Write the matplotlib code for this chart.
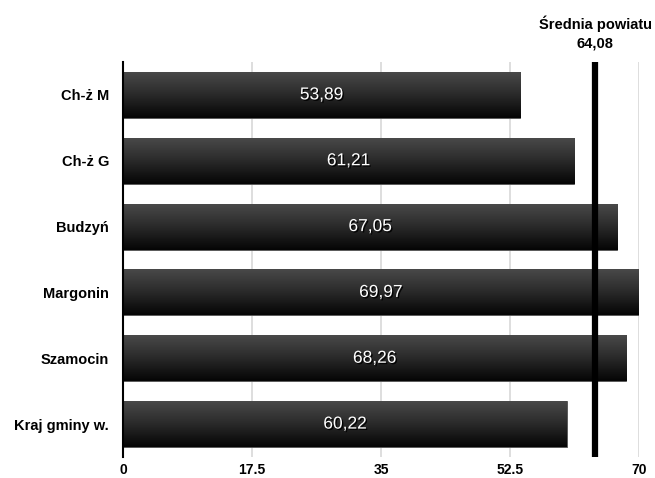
import numpy as np
import matplotlib
matplotlib.use("Agg")
import matplotlib.pyplot as plt
import matplotlib.patheffects as pe
from matplotlib.colors import LinearSegmentedColormap

plt.rcParams['font.family'] = ['Liberation Sans', 'DejaVu Sans']

# data
categories = ["Ch-ż M", "Ch-ż G", "Budzyń", "Margonin", "Szamocin", "Kraj gminy w."]
values = [53.89, 61.21, 67.05, 69.97, 68.26, 60.22]
value_labels = ["53,89", "61,21", "67,05", "69,97", "68,26", "60,22"]
average = 64.08
average_label = "Średnia powiatu\n64,08"
xticks = [0, 17.5, 35, 52.5, 70]
xtick_labels = ["0", "17.5", "35", "52.5", "70"]

fig = plt.figure(figsize=(6.55, 4.78), dpi=100)
ax = fig.add_axes([123 / 655, 1 - 457 / 478, 516 / 655, 395 / 478])

y = np.arange(len(categories))
bars = ax.barh(y, values, height=0.7, color="#1a1a1a", edgecolor="#555555",
               linewidth=0.6, zorder=2)

# vertical gradient on each bar (grey on top -> black at bottom)
grad_cmap = LinearSegmentedColormap.from_list("bar", ["#4a4a4a", "#2a2a2a", "#050505"])
grad = np.linspace(0, 1, 64).reshape(-1, 1)
for b in bars:
    x0, y0 = b.get_x(), b.get_y()
    w, h = b.get_width(), b.get_height()
    im = ax.imshow(grad, cmap=grad_cmap, aspect="auto", origin="upper",
                   extent=[x0, x0 + w, y0 + h, y0], zorder=2.5)
    im.set_clip_path(b)

for yi, v, lab in zip(y, values, value_labels):
    ax.text(v / 2, yi, lab, ha="center", va="center", color="white",
            fontsize=12.5, zorder=4,
            path_effects=[pe.withSimplePatchShadow(offset=(1, -1), shadow_rgbFace="black", alpha=0.9)])

ax.set_xlim(0, 70)
ax.set_ylim(len(categories) - 0.5, -0.5)
ax.set_xticks(xticks)
ax.set_xticklabels(xtick_labels, fontsize=10, fontweight="bold")
ax.set_yticks(y)
ax.set_yticklabels(categories, fontsize=10.5, fontweight="bold")
ax.tick_params(axis="y", length=0, pad=10)
ax.tick_params(axis="x", length=0, pad=4)

ax.grid(axis="x", color="#d8d8d8", linewidth=1.2, zorder=0)
ax.set_axisbelow(True)
for s in ["top", "right", "bottom"]:
    ax.spines[s].set_visible(False)
ax.spines["left"].set_color("black")
ax.spines["left"].set_linewidth(1.5)
ax.spines["left"].set_zorder(5)

ax.axvline(average, ymin=0, ymax=1, color="black", linewidth=4.5, zorder=6)
ax.text(average, -0.67, average_label, ha="center", va="bottom",
        fontsize=10.5, fontweight="bold", linespacing=1.45, zorder=6)

fig.savefig("out.png", dpi=100)
